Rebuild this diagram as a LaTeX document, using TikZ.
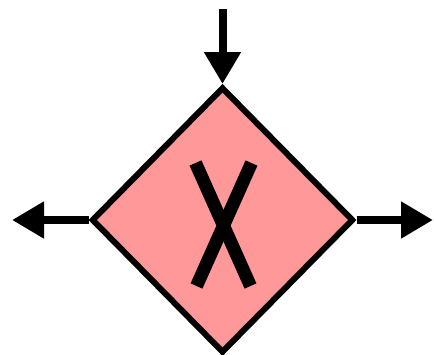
\documentclass[tikz,border=0pt]{standalone}
\usetikzlibrary{shapes.geometric, arrows.meta, positioning}
\definecolor{gatefill}{RGB}{255,153,153}
\tikzset{
  gateway/.style = {diamond, draw=black, line width=3pt, fill=gatefill, minimum width=131pt, minimum height=133pt, inner sep=0pt},
  flow/.style = {line width=4pt, -{Triangle[length=16pt, width=17.5pt]}},
  cross/.style = {line width=6.5pt, line cap=butt}
}
\begin{document}
\begin{tikzpicture}[x=0.5pt, y=-0.5pt]
    \useasboundingbox (0,0) rectangle (434,354);

    % Gateway
    \node (gate) [gateway] at (222.5,220) {};

    % Marker
    \draw [cross] ([shift={(-27,-57)}]gate.center) -- ([shift={(28,66)}]gate.center);
    \draw [cross] ([shift={(29,-57)}]gate.center) -- ([shift={(-26,66)}]gate.center);

    % Flows
    \coordinate (in) at (gate.north |- 0,9);
    \coordinate (outleft) at (12,219);
    \coordinate (outright) at (433,219);
    \draw [flow] (in) -- (gate.north);
    \draw [flow] (gate.west) -- (outleft |- gate.west);
    \draw [flow] (gate.east) -- (outright |- gate.east);
\end{tikzpicture}
\end{document}
